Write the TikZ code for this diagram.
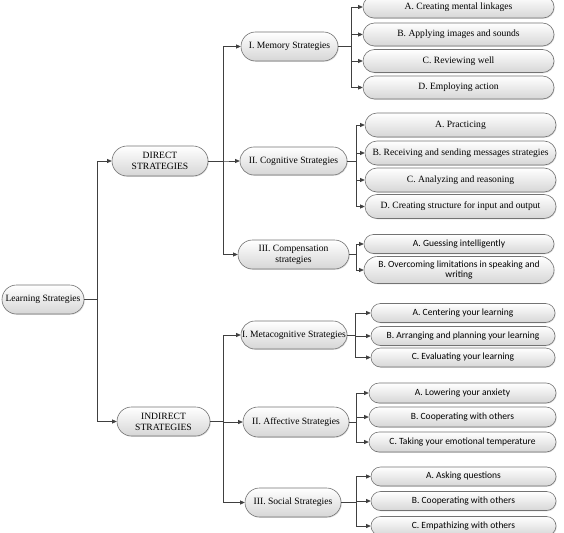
\documentclass[tikz,border=0pt]{standalone}
\usepackage{fontspec}
\setmainfont{Liberation Serif}
\newfontfamily\calfont{Carlito}
\usetikzlibrary{shapes.misc,arrows.meta,shadows}
\tikzset{
  box/.style={rounded rectangle, draw=black!55, line width=0.6pt,
    top color=white, bottom color=black!16,
    drop shadow={shadow xshift=0.8pt,shadow yshift=-0.8pt,opacity=0.25},
    inner sep=1pt, align=center, font=\fontsize{9.6}{10.8}\selectfont},
  sbox/.style={box, font=\calfont\fontsize{9.5}{10.8}\selectfont},
  arr/.style={draw=black!75, line width=0.75pt, -{Triangle[length=4.5pt,width=4pt]}},
}
\begin{document}
\begin{tikzpicture}[x=1pt,y=-1pt]
\useasboundingbox (0,0) rectangle (564,532);
% level 0
\node[box, minimum width=84pt, minimum height=29pt] (ls) at (43,299.5) {Learning Strategies};
% level 1
\node[box, minimum width=98pt, minimum height=30pt] (direct) at (160,161) {DIRECT\\STRATEGIES};
\node[box, minimum width=95pt, minimum height=29pt] (indirect) at (163.5,421.5) {INDIRECT\\STRATEGIES};
% level 2
\node[box, minimum width=99pt, minimum height=29pt] (mem) at (289.5,46.5) {I. Memory Strategies};
\node[box, minimum width=109pt, minimum height=28pt] (cog) at (293.5,161) {II. Cognitive Strategies};
\node[box, minimum width=113pt, minimum height=29pt] (comp) at (293.5,254.5) {III. Compensation\\strategies};
\node[box, minimum width=108pt, minimum height=28pt] (meta) at (294,335) {I. Metacognitive Strategies};
\node[box, minimum width=108pt, minimum height=30pt] (aff) at (296,422) {II. Affective Strategies};
\node[box, minimum width=98pt, minimum height=29pt] (soc) at (293,502.5) {III. Social Strategies};
% memory leaves
\node[box, minimum width=193pt, minimum height=22pt] (m1) at (458.5,7) {A. Creating mental linkages};
\node[box, minimum width=193pt, minimum height=23pt] (m2) at (458.5,34.5) {B. Applying images and sounds};
\node[box, minimum width=193pt, minimum height=23pt] (m3) at (458.5,61) {C. Reviewing well};
\node[box, minimum width=193pt, minimum height=23pt] (m4) at (458.5,87.5) {D. Employing action};
% cognitive leaves
\node[box, minimum width=193pt, minimum height=24pt] (c1) at (460.5,125) {A. Practicing};
\node[box, minimum width=193pt, minimum height=24pt] (c2) at (460.5,153) {B. Receiving and sending messages strategies};
\node[box, minimum width=193pt, minimum height=24pt] (c3) at (460.5,180) {C. Analyzing and reasoning};
\node[box, minimum width=193pt, minimum height=24pt] (c4) at (460.5,206.5) {D. Creating structure for input and output};
% compensation leaves
\node[sbox, minimum width=192pt, minimum height=19pt] (p1) at (459,244) {A. Guessing intelligently};
\node[sbox, minimum width=192pt, minimum height=27pt] (p2) at (459,270) {B. Overcoming limitations in speaking and\\writing};
% metacognitive leaves
\node[sbox, minimum width=186pt, minimum height=19pt] (t1) at (463,313) {A. Centering your learning};
\node[sbox, minimum width=186pt, minimum height=19pt] (t2) at (463,336) {B. Arranging and planning your learning};
\node[sbox, minimum width=186pt, minimum height=19pt] (t3) at (463,357.5) {C. Evaluating your learning};
% affective leaves
\node[sbox, minimum width=189pt, minimum height=20pt] (a1) at (462.5,393) {A. Lowering your anxiety};
\node[sbox, minimum width=189pt, minimum height=20pt] (a2) at (462.5,417) {B. Cooperating with others};
\node[sbox, minimum width=189pt, minimum height=20pt] (a3) at (462.5,442) {C. Taking your emotional temperature};
% social leaves
\node[sbox, minimum width=187pt, minimum height=19pt] (s1) at (463.5,476.5) {A. Asking questions};
\node[sbox, minimum width=187pt, minimum height=19pt] (s2) at (463.5,501) {B. Cooperating with others};
\node[sbox, minimum width=187pt, minimum height=19pt] (s3) at (463.5,526) {C. Empathizing with others};
% connectors
\foreach \c in {direct,indirect} \draw[arr] (ls.east) -- ++(13,0) |- (\c.west);
\foreach \c in {mem,cog,comp} \draw[arr] (direct.east) -- ++(15,0) |- (\c.west);
\foreach \c in {meta,aff,soc} \draw[arr] (indirect.east) -- ++(13,0) |- (\c.west);
\foreach \c in {m1,m2,m3,m4} \draw[arr] (mem.east) -- ++(13,0) |- (\c.west);
\foreach \c in {c1,c2,c3,c4} \draw[arr] (cog.east) -- ++(9,0) |- (\c.west);
\foreach \c in {p1,p2} \draw[arr] (comp.east) -- ++(7,0) |- (\c.west);
\foreach \c in {t1,t2,t3} \draw[arr] (meta.east) -- ++(8,0) |- (\c.west);
\foreach \c in {a1,a2,a3} \draw[arr] (aff.east) -- ++(7,0) |- (\c.west);
\foreach \c in {s1,s2,s3} \draw[arr] (soc.east) -- ++(15,0) |- (\c.west);
\end{tikzpicture}
\end{document}
